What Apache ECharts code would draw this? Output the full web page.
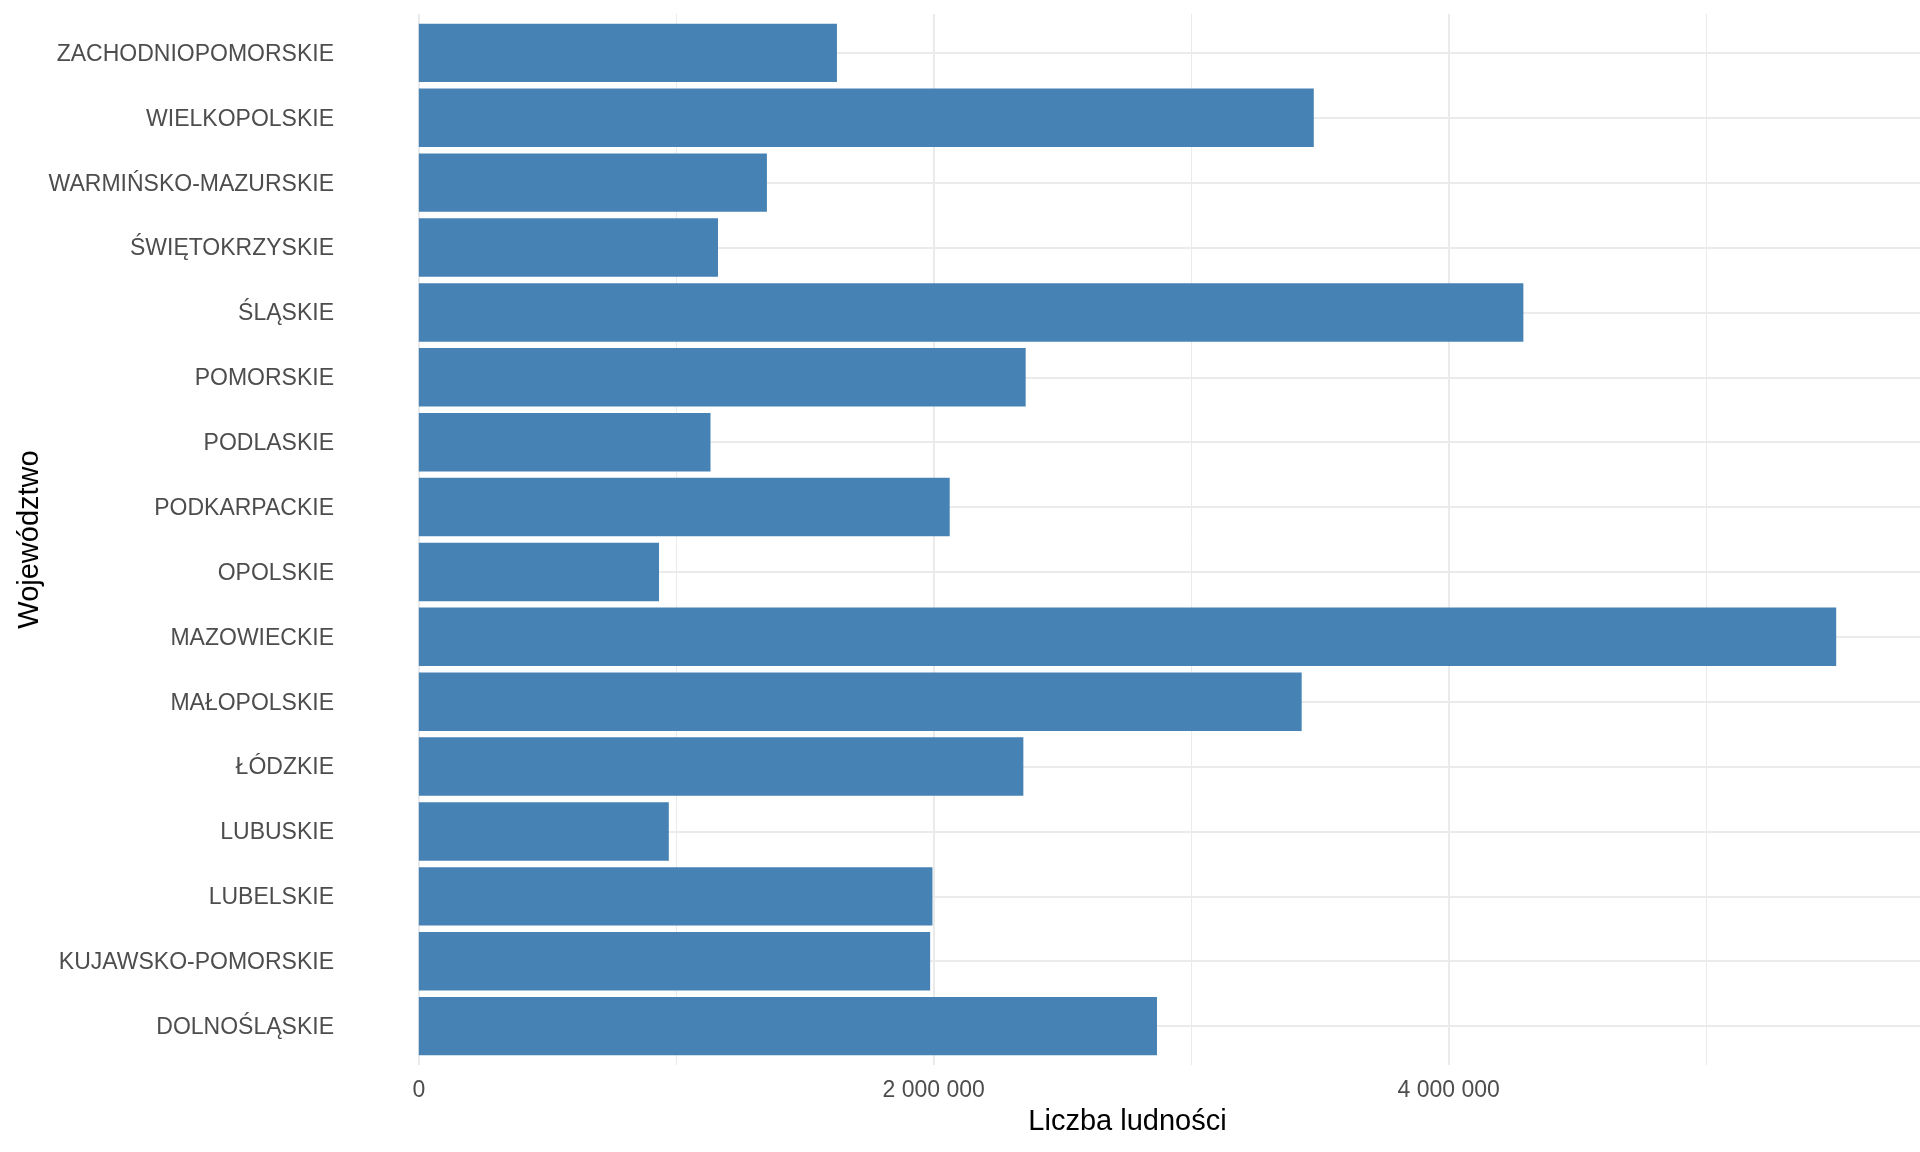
<!DOCTYPE html>
<html>
<head>
    <meta charset="utf-8">
    <title>Liczba ludności wg województw</title>
    <script src="https://cdn.jsdelivr.net/npm/echarts@6/dist/echarts.min.js"></script>
    <style>
        html, body { margin: 0; padding: 0; background: #ffffff; }
        #chart { width: 1920px; height: 1152px; }
    </style>
</head>
<body>
<div id="chart"></div>
<script>
    // województwa, od dołu wykresu do góry
    var wojewodztwa = ['DOLNOŚLĄSKIE', 'KUJAWSKO-POMORSKIE', 'LUBELSKIE', 'LUBUSKIE', 'ŁÓDZKIE',
        'MAŁOPOLSKIE', 'MAZOWIECKIE', 'OPOLSKIE', 'PODKARPACKIE', 'PODLASKIE', 'POMORSKIE',
        'ŚLĄSKIE', 'ŚWIĘTOKRZYSKIE', 'WARMIŃSKO-MAZURSKIE', 'WIELKOPOLSKIE', 'ZACHODNIOPOMORSKIE'];
    var ludnosc = [2867000, 1986000, 1995000, 971000, 2348000,
        3429000, 5505000, 933000, 2062000, 1133000, 2357000,
        4290000, 1162000, 1352000, 3476000, 1624000];
    var ticksX = [0, 2000000, 4000000];

    var font = 'Liberation Sans, Arial, sans-serif';
    var chart = echarts.init(document.getElementById('chart'));

    // panel jak w ggplot: oś x rozszerzona o 5% zakresu
    var panelL = 348, panelR = 1907, panelT = 14, panelB = 1065;
    var xMin = -275000, xMax = 5780000;
    var pxPerUnit = (panelR - panelL) / (xMax - xMin);
    var zeroX = panelL - xMin * pxPerUnit;
    var band = (panelB - panelT) / (wojewodztwa.length + 0.2);

    function fmt(v) {
        return String(v).replace(/\B(?=(\d{3})+(?!\d))/g, ' ');
    }

    var option = {
        backgroundColor: '#ffffff',
        animation: false,
        textStyle: {fontFamily: font},
        grid: [
            { // słupki
                left: panelL, right: 1920 - panelR,
                top: panelT + 0.1 * band, bottom: 1152 - panelB + 0.1 * band,
                outerBoundsMode: 'none'
            },
            { // linie siatki pionowe + etykiety osi x
                left: zeroX, right: 1920 - (zeroX + 6000000 * pxPerUnit),
                top: panelT, bottom: 1152 - panelB,
                outerBoundsMode: 'none'
            }
        ],
        xAxis: [
            {
                type: 'value', gridIndex: 0, min: xMin, max: xMax,
                axisLine: {show: false}, axisTick: {show: false},
                axisLabel: {show: false}, splitLine: {show: false}
            },
            {
                type: 'value', gridIndex: 1, min: 0, max: 6000000, interval: 2000000,
                axisLine: {show: false}, axisTick: {show: false},
                minorTick: {show: false, splitNumber: 2},
                axisLabel: {
                    margin: 14, fontSize: 23, color: '#4d4d4d', fontFamily: font,
                    formatter: function (v) {
                        return ticksX.indexOf(v) >= 0 ? fmt(v) : '';
                    }
                },
                splitLine: {show: true, lineStyle: {color: '#ebebeb', width: 2}},
                minorSplitLine: {show: true, lineStyle: {color: '#ebebeb', width: 1}}
            }
        ],
        yAxis: [
            {
                type: 'category', gridIndex: 0, data: wojewodztwa,
                axisLine: {show: false},
                axisTick: {
                    show: true, inside: true, alignWithLabel: true, interval: 0,
                    length: panelR - panelL,
                    lineStyle: {color: '#ebebeb', width: 2}
                },
                axisLabel: {
                    interval: 0, margin: 14,
                    formatter: function (v) { return '{w|' + v + '}'; },
                    rich: {
                        w: {fontSize: 23, color: '#4d4d4d', fontFamily: font, padding: [3, 0, 0, 0]}
                    }
                },
                splitLine: {show: false}
            },
            {type: 'value', gridIndex: 1, show: false}
        ],
        series: [
            {
                type: 'bar',
                xAxisIndex: 0, yAxisIndex: 0,
                data: ludnosc,
                barCategoryGap: '10%',
                itemStyle: {color: '#4682b4'}
            }
        ],
        graphic: [
            {
                type: 'text', x: (panelL + panelR) / 2, y: 1122,
                style: {
                    text: 'Liczba ludności', font: '29px ' + font, fill: '#000000',
                    textAlign: 'center', textVerticalAlign: 'middle'
                }
            },
            {
                type: 'text', x: 30, y: (panelT + panelB) / 2, rotation: Math.PI / 2,
                style: {
                    text: 'Województwo', font: '29px ' + font, fill: '#000000',
                    textAlign: 'center', textVerticalAlign: 'middle'
                }
            }
        ]
    };

    chart.setOption(option);
</script>
</body>
</html>
